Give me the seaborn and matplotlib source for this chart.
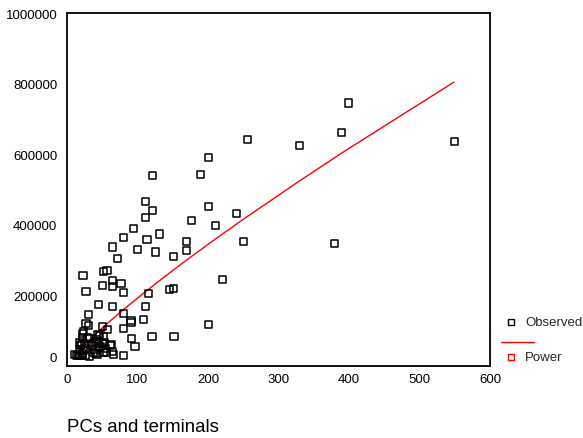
import numpy as np
import pandas as pd
import matplotlib
matplotlib.use("Agg")
import matplotlib.pyplot as plt
import matplotlib.transforms as mtransforms
from matplotlib.lines import Line2D
import seaborn as sns

# Observed data: PCs and terminals (x) vs value (y)
pcs = [399, 390, 379, 549, 256, 329.5, 201, 121, 190, 121, 201, 240, 177, 210,
       131.5, 170, 251, 126, 170, 151, 221, 146, 151, 115, 111, 108, 201, 92,
       120.6, 151.8, 96.5, 111, 111, 94.6, 80, 113.5, 64, 100, 71, 22.7, 52,
       56.7, 27, 51, 65, 65, 76.6, 80, 45, 65, 80, 30.7, 27, 31, 50.6, 57.7,
       80, 90.8, 90.8, 23, 22, 44, 46, 31.7, 51.5, 42, 20.8, 19, 37, 40.7,
       51.5, 61, 62.4, 80, 10, 13.7, 18.4, 22, 25.5, 31.7, 38, 40.7, 43, 51.5,
       39.7, 17.5, 24, 46.8, 22, 18, 24.5, 45, 53, 35.5, 26, 55, 64, 66, 56,
       16, 29]
values = [745000, 661000, 348000, 635000, 642000, 624000, 591000, 540000,
          543000, 440000, 451000, 433000, 411000, 397000, 374000, 352000,
          352000, 323000, 326000, 311000, 246000, 216000, 220000, 205000,
          168000, 131000, 117000, 79000, 84000, 84000, 54000, 465000, 421000,
          389000, 363000, 359000, 337000, 329000, 304000, 256000, 267000,
          271000, 212000, 227000, 241000, 224000, 234000, 209000, 175000,
          168000, 149000, 146000, 120000, 116000, 113000, 104000, 106000,
          129000, 124000, 97000, 93000, 90000, 86000, 79000, 83000, 74000,
          60000, 57000, 65000, 69000, 63000, 59000, 62000, 29000, 33000, 31000,
          29000, 35000, 29000, 28000, 39000, 35000, 32000, 37000, 48000, 48000,
          45000, 54000, 80000, 67000, 64000, 64000, 67000, 57000, 50000, 50000,
          40000, 33000, 39000, 31000, 80000]

# Power model y = a * x^b, coefficients
power_a = 4020.0
power_b = 0.84

x_ticks = [0, 100, 200, 300, 400, 500, 600]
y_ticks = [0, 200000, 400000, 600000, 800000, 1000000]
x_label = "PCs and terminals"
legend_labels = ["Observed", "Power"]

df = pd.DataFrame({"pcs": pcs, "value": values})

fit = pd.DataFrame({"pcs": np.sort(df["pcs"].unique())})
fit["value"] = power_a * fit["pcs"] ** power_b

sns.set_style("white")
plt.rcParams["font.family"] = ["Liberation Sans", "DejaVu Sans"]

fig = plt.figure(figsize=(5.83, 4.39), dpi=100)
ax = fig.add_axes([67 / 583, 1 - 367 / 439, (490 - 67) / 583, (367 - 14) / 439])

sns.lineplot(data=fit, x="pcs", y="value", ax=ax, color="#ff0000",
             linewidth=1.0, estimator=None, sort=True, zorder=2)
sns.scatterplot(data=df, x="pcs", y="value", ax=ax, marker="s", s=26,
                facecolor="none", edgecolor="black", linewidth=1.1, zorder=3)

ax.set_xlim(0, 600)
ax.set_ylim(0, 1000000)
ax.set_xticks(x_ticks)
ax.set_yticks(y_ticks)
ax.set_xticklabels([str(t) for t in x_ticks])
ax.set_yticklabels([str(t) for t in y_ticks])
ax.set_xlabel("")
ax.set_ylabel("")
ax.tick_params(axis="both", direction="out", length=3, width=1.2,
               labelsize=9.5, colors="black", pad=2)
ax.tick_params(axis="y", pad=4)
for sp in ax.spines.values():
    sp.set_visible(True)
    sp.set_color("black")
    sp.set_linewidth(1.3)

# shift the "0" y tick label up slightly as in the reference
lbl0 = ax.get_yticklabels()[0]
lbl0.set_transform(lbl0.get_transform() +
                   mtransforms.ScaledTranslation(0, 9 / 100, fig.dpi_scale_trans))

fig.text(67 / 583, 1 - 428 / 439, x_label, fontsize=13.4, ha="left",
         va="center", color="black")

# legend
fig.add_artist(Line2D([511 / 583], [1 - 322.7 / 439], marker="s", markersize=5,
                      markerfacecolor="none", markeredgecolor="black",
                      markeredgewidth=1.0, linestyle="none",
                      transform=fig.transFigure))
fig.text(525 / 583, 1 - 322.7 / 439, legend_labels[0], fontsize=9.5,
         ha="left", va="center")
fig.add_artist(Line2D([501 / 583, 534 / 583], [1 - 342.7 / 439] * 2,
                      color="#ff0000", linewidth=1.0,
                      transform=fig.transFigure))
fig.add_artist(Line2D([511 / 583], [1 - 358 / 439], marker="s", markersize=5,
                      markerfacecolor="none", markeredgecolor="#ff0000",
                      markeredgewidth=1.0, linestyle="none",
                      transform=fig.transFigure))
fig.text(525 / 583, 1 - 358 / 439, legend_labels[1], fontsize=9.5,
         ha="left", va="center")

fig.savefig("out.png", dpi=100)
